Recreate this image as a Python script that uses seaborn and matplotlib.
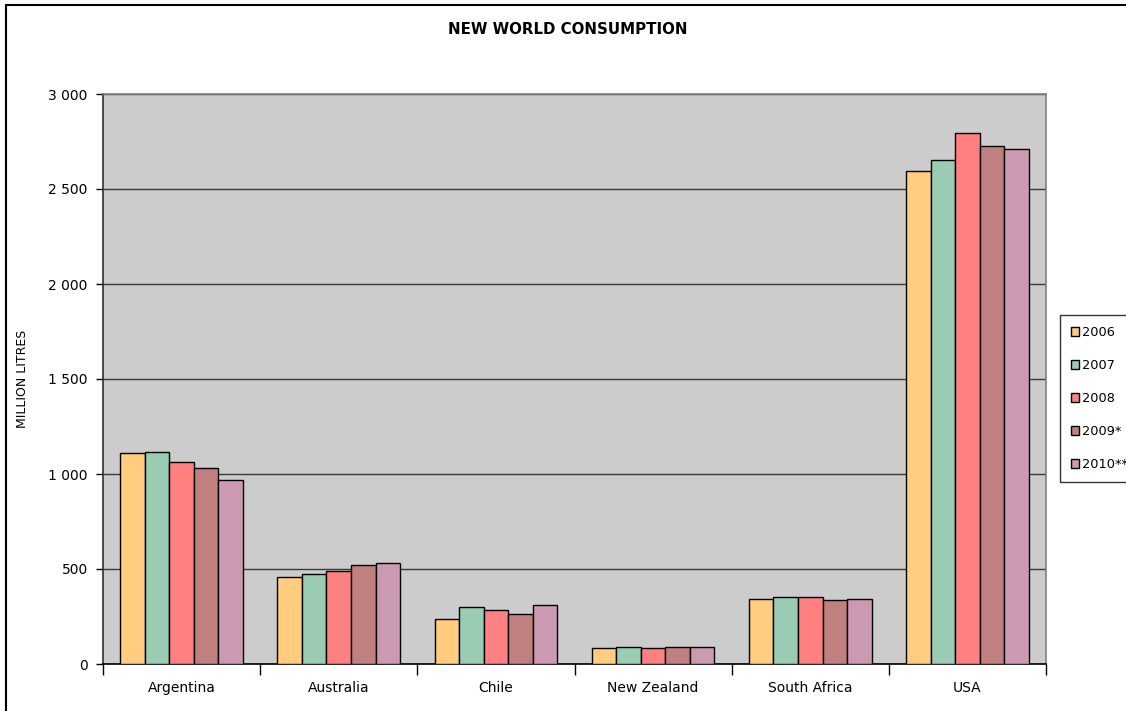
import matplotlib
matplotlib.use("Agg")
import matplotlib.pyplot as plt
from matplotlib.patches import Rectangle
from matplotlib.ticker import FuncFormatter, FixedLocator, MultipleLocator
import numpy as np
import pandas as pd
import seaborn as sns

# Wine consumption, million litres
countries = ["Argentina", "Australia", "Chile", "New Zealand", "South Africa", "USA"]
years = ["2006", "2007", "2008", "2009*", "2010**"]
v2006 = [1109, 456, 235, 84, 342, 2593]
v2007 = [1114, 475, 298, 89, 354, 2651]
v2008 = [1063, 488, 286, 84, 354, 2796]
v2009 = [1032, 519, 261, 89, 337, 2728]
v2010 = [968, 530, 310, 89, 344, 2712]
colors = ["#FFCC80", "#99CCB3", "#FF8080", "#C08080", "#CC99B3"]

series = [v2006, v2007, v2008, v2009, v2010]
df = pd.DataFrame(
    [(c, y, v) for y, vals in zip(years, series) for c, v in zip(countries, vals)],
    columns=["country", "year", "litres"],
)

sns.set_theme(style="white")
plt.rcParams["font.family"] = ["DejaVu Sans"]
plt.rcParams["text.color"] = "black"
plt.rcParams["axes.labelcolor"] = "black"
plt.rcParams["xtick.color"] = "black"
plt.rcParams["ytick.color"] = "black"

W, H = 1126, 711
fig = plt.figure(figsize=(W / 100, H / 100), dpi=100)
fig.patch.set_facecolor("white")

# plot area in pixel coordinates
left, right, top, bottom = 103, 1046, 94, 664
ax = fig.add_axes([left / W, 1 - bottom / H, (right - left) / W, (bottom - top) / H])
ax.set_facecolor("#CCCCCC")

sns.barplot(
    data=df, x="country", y="litres", hue="year", order=countries, hue_order=years,
    palette=colors, width=0.78, edgecolor="black", linewidth=1.0, saturation=1,
    ax=ax, zorder=3,
)

ax.set_ylim(0, 3000)
ax.set_xlim(-0.5, len(countries) - 0.5)
ax.yaxis.set_major_locator(MultipleLocator(500))
ax.yaxis.set_major_formatter(FuncFormatter(lambda v, p: f"{int(v):,}".replace(",", " ")))
ax.grid(axis="y", color="#3a3a3a", linewidth=1.0, zorder=1)
ax.set_axisbelow(True)

ax.tick_params(axis="y", which="major", direction="out", length=5, width=1,
               color="black", labelsize=10, pad=6, left=True)
ax.tick_params(axis="x", which="major", length=0, labelsize=10, pad=12)
ax.xaxis.set_minor_locator(FixedLocator(np.arange(-0.5, len(countries), 1.0)))
ax.tick_params(axis="x", which="minor", direction="out", length=8, width=1,
               color="black", bottom=True)

for s in ["top", "right"]:
    ax.spines[s].set_color("#808080")
    ax.spines[s].set_linewidth(1.2)
ax.spines["left"].set_color("#303030")
ax.spines["bottom"].set_color("black")
ax.spines["left"].set_linewidth(1.2)
ax.spines["bottom"].set_linewidth(1.2)

ax.set_xlabel("")
ax.set_ylabel("MILLION LITRES", fontsize=9, labelpad=14)

fig.text(568 / W, 1 - 30 / H, "NEW WORLD CONSUMPTION", ha="center", va="center",
         fontsize=10.8, fontweight="bold")

ax.get_legend().remove()
handles = [Rectangle((0, 0), 1, 1, facecolor=c, edgecolor="black", linewidth=1) for c in colors]
leg = fig.legend(
    handles, years, loc="upper left", bbox_to_anchor=(1060 / W, 1 - 315 / H),
    frameon=True, fancybox=False, shadow=False, fontsize=9.3,
    handlelength=0.65, handleheight=0.65, handletextpad=0.2, labelspacing=1.55,
    borderpad=0.85, borderaxespad=0,
)
leg.get_frame().set_edgecolor("black")
leg.get_frame().set_linewidth(1.0)

# outer chart frame
fig.add_artist(Rectangle((6 / W, -0.2), 1.2, 1.2 - 5 / H, transform=fig.transFigure,
                         fill=False, edgecolor="black", linewidth=1.5))

fig.savefig("out.png", dpi=100)
